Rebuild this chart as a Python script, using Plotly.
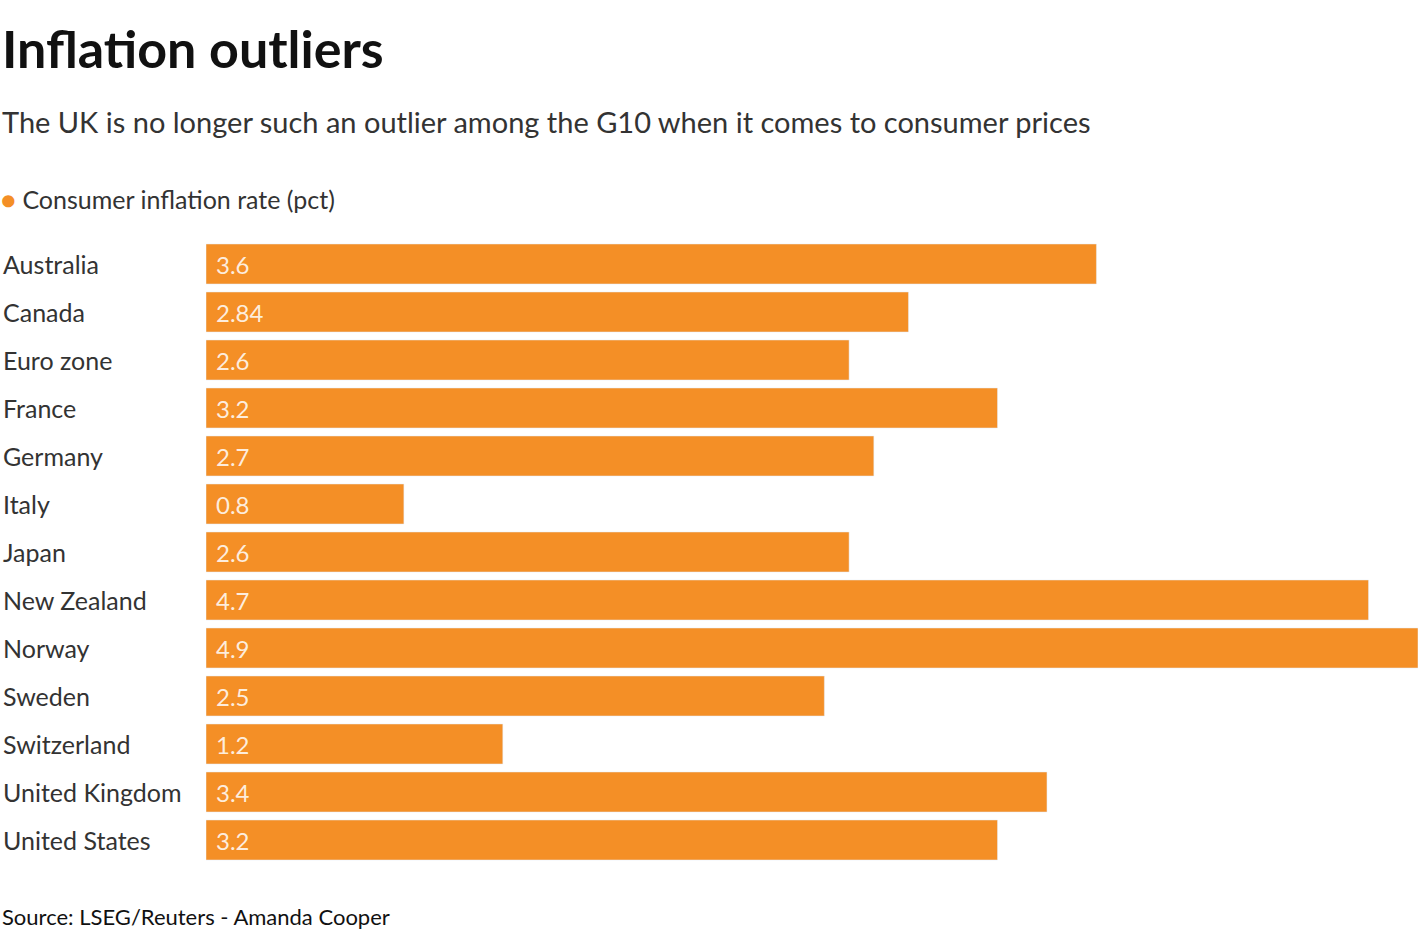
import plotly.graph_objects as go

countries = ["Australia", "Canada", "Euro zone", "France", "Germany", "Italy", "Japan",
             "New Zealand", "Norway", "Sweden", "Switzerland", "United Kingdom", "United States"]
values = [3.6, 2.84, 2.6, 3.2, 2.7, 0.8, 2.6, 4.7, 4.9, 2.5, 1.2, 3.4, 3.2]
labels = ["3.6", "2.84", "2.6", "3.2", "2.7", "0.8", "2.6", "4.7", "4.9", "2.5", "1.2", "3.4", "3.2"]

FONT = "Lato"
ORANGE = "#f48f26"
L, T, PW, PH = 206, 240, 1212, 624

fig = go.Figure(go.Bar(
    x=values, y=countries, orientation="h", marker_color=ORANGE,
    hoverinfo="skip", width=0.833,
))

fig.update_layout(
    width=1420, height=936, paper_bgcolor="white", plot_bgcolor="white",
    margin=dict(l=L, r=2, t=T, b=936 - T - PH),
    showlegend=False, bargap=0.167,
    xaxis=dict(range=[0, 4.9], visible=False),
    yaxis=dict(autorange="reversed", showticklabels=False, showgrid=False, zeroline=False),
    font=dict(family=FONT),
)

ann = [
    dict(text="<b>Inflation outliers</b>", x=0, y=48, size=52, color="#111"),
    dict(text="The UK is no longer such an outlier among the G10 when it comes to consumer prices", x=0, y=121, size=29, color="#333"),
    dict(text="<span style='color:%s'>●</span> Consumer inflation rate (pct)" % ORANGE, x=-1, y=199, size=25, color="#333"),
    dict(text="Source: LSEG/Reuters - Amanda Cooper", x=0, y=916, size=22, color="#111"),
]
annotations = []
for a in ann:
    annotations.append(dict(text=a["text"], xref="paper", yref="paper",
                            x=(a["x"] - L) / PW, y=1 - (a["y"] - T) / PH,
                            xanchor="left", yanchor="middle", showarrow=False,
                            font=dict(family=FONT, size=a["size"], color=a["color"])))
for c, lab in zip(countries, labels):
    annotations.append(dict(text=c, xref="paper", yref="y", x=(1 - L) / PW, y=c,
                            xanchor="left", yanchor="middle", showarrow=False,
                            font=dict(family=FONT, size=25, color="#333")))
    annotations.append(dict(text=lab, xref="x", yref="y", x=0, y=c, xshift=8,
                            xanchor="left", yanchor="middle", showarrow=False,
                            font=dict(family=FONT, size=24, color="rgba(255,255,255,0.85)")))
fig.update_layout(annotations=annotations)
fig.write_html("out.html", config={"displayModeBar": False},
               post_script="document.body.style.margin='0';document.body.style.overflow='hidden';")
